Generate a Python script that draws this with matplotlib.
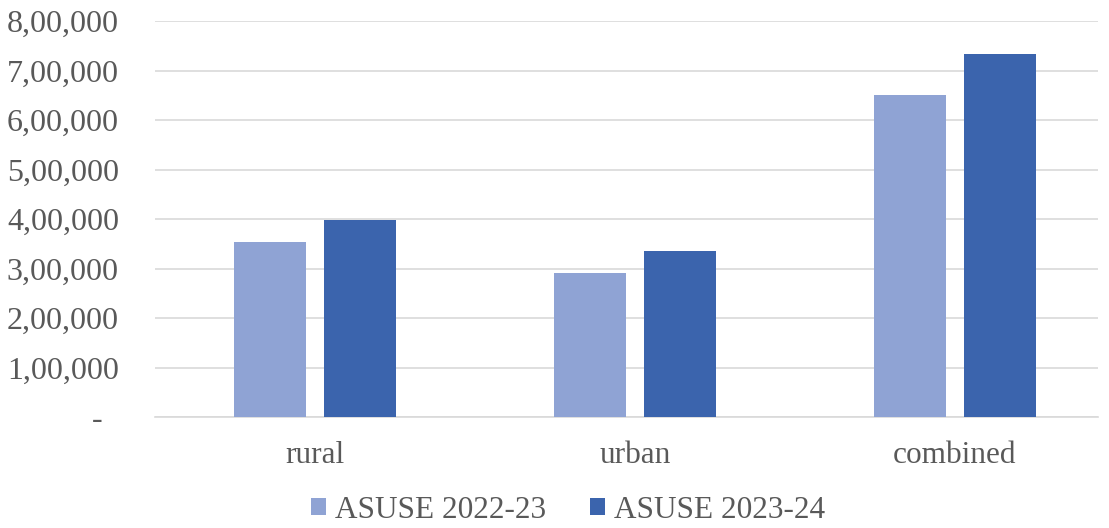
import matplotlib.pyplot as plt
import numpy as np
from matplotlib.ticker import FuncFormatter

# data
categories = ['rural', 'urban', 'combined']
asuse_2022 = [354000, 291500, 650500]
asuse_2023 = [397000, 335500, 733000]
series_names = ['ASUSE 2022-23', 'ASUSE 2023-24']

plt.rcParams['font.family'] = ['Liberation Serif', 'DejaVu Serif']

fig = plt.figure(figsize=(11.09, 5.28), dpi=100)
ax = fig.add_axes([155/1109, 1 - 417/528, (1098 - 155)/1109, 396/528])

x = np.arange(len(categories))
w = 0.225
off = 0.14
ax.bar(x - off, asuse_2022, w, color='#8FA3D4', label=series_names[0], zorder=3)
ax.bar(x + off, asuse_2023, w, color='#3B64AD', label=series_names[1], zorder=3)

ax.set_xlim(-0.5, 2.447)
ax.set_ylim(0, 800000)
ax.set_yticks(np.arange(0, 800001, 100000))


def indian(v, pos):
    v = int(round(v))
    if v == 0:
        return '-  '
    s = str(v)
    last3 = s[-3:]
    rest = s[:-3]
    parts = []
    while len(rest) > 2:
        parts.insert(0, rest[-2:])
        rest = rest[:-2]
    if rest:
        parts.insert(0, rest)
    return ','.join(parts + [last3])


ax.yaxis.set_major_formatter(FuncFormatter(indian))
ax.set_xticks(x)
ax.set_xticklabels(categories)
ax.tick_params(axis='both', length=0, colors='#595959')
ax.tick_params(axis='x', pad=17, labelsize=22.5)
ax.tick_params(axis='y', pad=26, labelsize=23)
ax.grid(axis='y', color='#D9D9D9', linewidth=1.2, zorder=0)
for s in ['top', 'right', 'left']:
    ax.spines[s].set_visible(False)
ax.spines['bottom'].set_color('#D9D9D9')
ax.spines['bottom'].set_linewidth(1.2)

fig.legend(loc='center', bbox_to_anchor=(568/1109, 1 - 510/528), ncol=2, frameon=False,
           fontsize=22.5, labelcolor='#595959', handlelength=0.48, handleheight=0.48,
           handletextpad=0.3, columnspacing=1.4)

fig.savefig('out.png', dpi=100)
